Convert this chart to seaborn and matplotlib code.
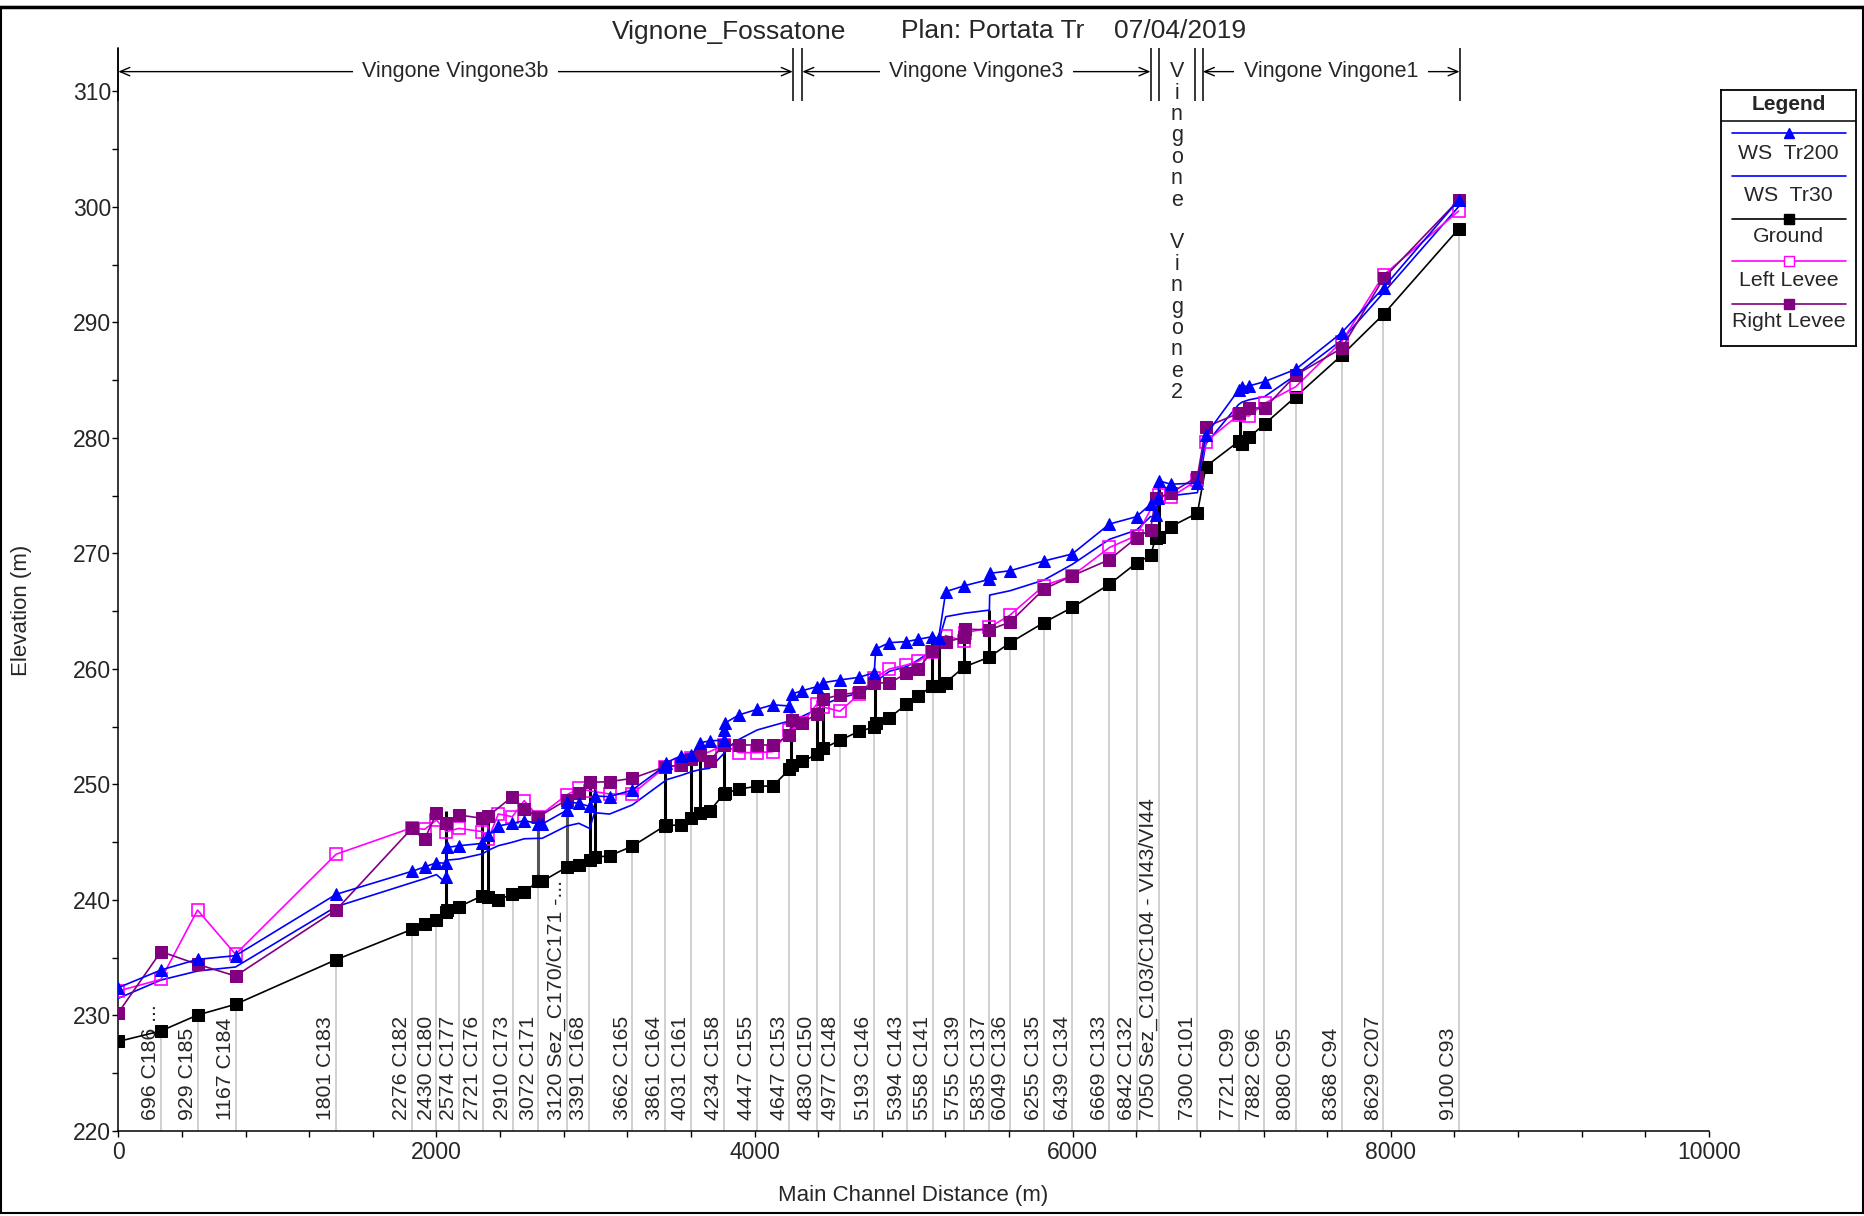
import numpy as np
import matplotlib
matplotlib.use("Agg")
import matplotlib.pyplot as plt
import seaborn as sns
from matplotlib.patches import Rectangle
from matplotlib.ticker import MultipleLocator

# values (main channel distance in m, elevation in m)
ground_x = [0, 268, 498, 737, 1369, 1845, 1926, 2000, 2058, 2066, 2142, 2289, 2326, 2389,
            2477, 2552, 2640, 2665, 2818, 2895, 2963, 2994, 3088, 3231, 3436, 3443, 3540,
            3603, 3659, 3717, 3808, 3812, 3901, 4016, 4114, 4219, 4234, 4300, 4390, 4432,
            4537, 4656, 4752, 4762, 4847, 4955, 5028, 5117, 5157, 5202, 5317, 5476, 5607,
            5819, 5997, 6231, 6401, 6489, 6522, 6540, 6616, 6784, 6837, 7043, 7064, 7107,
            7206, 7402, 7691, 7954, 8426]
ground_z = [227.75, 228.66, 230.04, 230.97, 234.83, 237.45, 237.92, 238.3, 238.95, 239.1,
            239.42, 240.37, 240.25, 240.0, 240.52, 240.69, 241.62, 241.62, 242.83, 242.99,
            243.46, 243.7, 243.83, 244.65, 246.42, 246.5, 246.45, 247.14, 247.54, 247.69,
            249.2, 249.24, 249.6, 249.85, 249.87, 251.3, 251.7, 252.0, 252.6, 253.12,
            253.83, 254.6, 254.97, 255.3, 255.77, 256.95, 257.65, 258.53, 258.53, 258.83,
            260.18, 261.03, 262.28, 264.02, 265.33, 267.34, 269.18, 269.83, 271.35, 271.4,
            272.32, 273.5, 277.53, 279.7, 279.48, 280.05, 281.2, 283.58, 287.16, 290.71,
            298.1]

ws200_x = [0, 268, 498, 737, 1369, 1845, 1926, 2000, 2058, 2060, 2066, 2142, 2289, 2326,
           2389, 2477, 2552, 2640, 2665, 2818, 2822, 2895, 2963, 2994, 3088, 3231, 3436,
           3443, 3540, 3603, 3659, 3717, 3808, 3810, 3812, 3901, 4016, 4114, 4219, 4234,
           4300, 4390, 4432, 4537, 4656, 4752, 4762, 4847, 4955, 5028, 5117, 5157, 5202,
           5317, 5476, 5478, 5607, 5819, 5997, 6231, 6401, 6489, 6522, 6538, 6540, 6616,
           6784, 6837, 7043, 7064, 7107, 7206, 7402, 7691, 7954, 8426]
ws200_z = [232.41, 233.94, 234.86, 235.18, 240.49, 242.48, 242.86, 243.23, 243.18, 241.98,
           244.55, 244.7, 244.9, 245.6, 246.41, 246.64, 246.87, 246.62, 246.58, 247.76,
           248.5, 248.37, 248.1, 249.0, 248.95, 249.52, 251.6, 251.89, 252.5, 252.56,
           253.62, 253.77, 253.85, 254.72, 255.3, 256.02, 256.51, 256.9, 256.8, 257.84,
           258.12, 258.47, 258.82, 259.05, 259.28, 259.68, 261.73, 262.28, 262.37, 262.57,
           262.8, 262.65, 266.7, 267.2, 267.76, 268.28, 268.51, 269.35, 269.96, 272.55,
           273.19, 274.26, 273.33, 274.8, 276.3, 276.0, 276.1, 280.26, 284.16, 284.44,
           284.5, 284.88, 285.95, 289.12, 293.02, 300.6]

ws30_x = [0, 268, 498, 737, 1369, 1845, 1926, 2000, 2058, 2066, 2142, 2289, 2326, 2389,
          2477, 2552, 2640, 2665, 2818, 2895, 2963, 2994, 3088, 3231, 3436, 3443, 3540,
          3603, 3659, 3717, 3808, 3812, 3901, 4016, 4114, 4219, 4234, 4300, 4390, 4432,
          4537, 4656, 4752, 4762, 4847, 4955, 5028, 5117, 5157, 5202, 5317, 5476, 5478,
          5607, 5819, 5997, 6231, 6401, 6489, 6522, 6540, 6616, 6784, 6837, 7043, 7064,
          7107, 7206, 7402, 7691, 7954, 8426]
ws30_z = [231.49, 233.07, 233.85, 234.2, 239.42, 241.5, 241.85, 242.2, 241.5, 243.45,
          243.55, 244.0, 244.3, 244.7, 245.0, 245.3, 245.34, 245.34, 246.4, 246.64,
          246.2, 247.56, 247.44, 248.23, 250.3, 250.4, 250.8, 251.1, 251.3, 251.4,
          252.7, 253.0, 253.9, 254.72, 255.1, 255.5, 255.6, 255.9, 256.5, 256.9,
          257.5, 257.9, 258.6, 258.9, 259.8, 260.2, 260.78, 261.6, 262.37, 264.53,
          264.82, 265.1, 266.4, 266.78, 267.7, 269.06, 271.23, 272.03, 273.19, 273.2,
          274.92, 275.0, 275.27, 279.5, 282.9, 283.1, 283.3, 283.58, 285.45, 288.48,
          292.58, 300.03]

left_x = [0, 268, 498, 737, 1369, 1845, 1926, 2000, 2062, 2142, 2289, 2326, 2389, 2477,
          2552, 2640, 2818, 2895, 2963, 3088, 3231, 3436, 3540, 3603, 3717, 3808, 3901,
          4016, 4114, 4219, 4300, 4390, 4432, 4537, 4656, 4752, 4847, 4955, 5028, 5117,
          5202, 5317, 5320, 5476, 5607, 5819, 5997, 6231, 6401, 6540, 6616, 6784, 6837,
          7043, 7107, 7206, 7402, 7691, 7954, 8426]
left_z = [232.12, 233.13, 239.13, 235.3, 243.96, 246.25, 246.12, 246.93, 245.92, 246.2,
          245.92, 245.3, 247.45, 247.21, 248.6, 247.21, 249.09, 249.67, 249.45, 249.18,
          249.18, 251.49, 251.69, 252.27, 252.84, 253.42, 252.76, 252.76, 252.84, 254.7,
          255.3, 256.94, 256.7, 256.34, 257.8, 259.2, 260.0, 260.35, 260.65, 261.5,
          262.9, 262.4, 263.1, 263.6, 264.68, 267.22, 268.07, 270.52, 271.55, 275.07,
          274.86, 276.36, 279.68, 282.0, 281.9, 283.0, 284.44, 288.34, 294.11, 299.65]

right_x = [0, 268, 498, 737, 1369, 1845, 1926, 2000, 2062, 2142, 2289, 2326, 2477, 2552,
           2640, 2818, 2895, 2963, 3088, 3231, 3436, 3540, 3603, 3659, 3717, 3808, 3901,
           4016, 4114, 4219, 4234, 4300, 4390, 4432, 4537, 4656, 4752, 4847, 4955, 5028,
           5117, 5202, 5317, 5320, 5476, 5607, 5819, 5997, 6231, 6401, 6489, 6522, 6616,
           6784, 6837, 7043, 7107, 7206, 7402, 7691, 7954, 8426]
right_z = [230.24, 235.53, 234.43, 233.42, 239.13, 246.2, 245.28, 247.5, 246.69, 247.36,
           247.07, 247.27, 248.95, 247.85, 247.2, 248.66, 249.24, 250.18, 250.25, 250.53,
           251.54, 251.69, 252.18, 252.56, 252.06, 253.42, 253.42, 253.42, 253.42, 254.25,
           255.6, 255.3, 256.13, 257.38, 257.77, 257.98, 258.82, 258.78, 259.62, 260.0,
           261.55, 262.33, 262.75, 263.45, 263.38, 264.07, 266.92, 268.07, 269.47, 271.36,
           272.07, 274.8, 275.22, 276.66, 280.96, 282.14, 282.63, 282.57, 285.45, 287.77,
           293.82, 300.6]

# bridges / culverts drawn as vertical bars: distance, invert, deck
struct_x = [2062, 2289, 2326, 2963, 2994, 3436, 3603, 3659, 3810, 4226, 4390, 4432,
            4757, 5117, 5157, 5317, 5476, 6540, 7053]
struct_lo = [238.95, 240.37, 240.25, 243.46, 243.7, 246.42, 247.14, 247.54, 249.2, 251.3,
             252.6, 253.12, 254.97, 258.53, 258.53, 260.18, 261.03, 271.4, 279.6]
struct_hi = [247.7, 247.07, 247.27, 250.7, 250.7, 251.9, 252.2, 252.56, 254.5, 256.2,
             256.6, 257.0, 259.7, 262.9, 262.9, 263.5, 265.1, 276.3, 282.3]
inline_x = [2640, 2818]
inline_lo = [241.62, 242.83]
inline_hi = [246.6, 248.7]

station_x = [268, 498, 737, 1369, 1845, 2000, 2142, 2293, 2481, 2640, 2818, 2959, 3231,
             3434, 3601, 3807, 4016, 4219, 4393, 4540, 4749, 4957, 5120, 5317, 5476, 5608,
             5817, 5997, 6231, 6401, 6543, 6784, 7043, 7204, 7404, 7692, 7952, 8426]
station_labels = ["696 C186 ...", "929 C185", "1167 C184", "1801 C183", "2276 C182",
                  "2430 C180", "2574 C177", "2721 C176", "2910 C173", "3072 C171",
                  "3120 Sez_C170/C171 -...", "3391 C168", "3662 C165", "3861 C164",
                  "4031 C161", "4234 C158", "4447 C155", "4647 C153", "4830 C150",
                  "4977 C148", "5193 C146", "5394 C143", "5558 C141", "5755 C139",
                  "5835 C137", "6049 C136", "6255 C135", "6439 C134", "6669 C133",
                  "6842 C132", "7050 Sez_C103/C104 - VI43/VI44", "7300 C101", "7721 C99",
                  "7882 C96", "8080 C95", "8368 C94", "8629 C207", "9100 C93"]

reach_names = ["Vingone Vingone3b", "Vingone Vingone3", "Vingone Vingone2", "Vingone Vingone1"]
reach_start = [0, 4300, 6541, 6818]
reach_end = [4240, 6489, 6766, 8432]

# ---- figure ----
sns.set_style("ticks")
plt.rcParams['font.family'] = ['Liberation Sans', 'DejaVu Sans']

W, H = 1865, 1216
fig = plt.figure(figsize=(W / 100, H / 100), dpi=100)
ax = fig.add_axes([118.3 / W, 85 / H, (1709 - 118.3) / W, (1131 - 47.6) / H])
ax.set_xlim(0, 10000)
ax.set_ylim(220, 313.8)

# station guide lines and labels
station_top = np.interp(station_x, ground_x, ground_z)
ax.vlines(station_x, 220, station_top, color="#c8c8c8", lw=1.2, zorder=1)
for sx, lab in zip(station_x, station_labels):
    ax.text(sx - 4, 220.92, lab, rotation=90, ha="right", va="bottom",
            fontsize=15.3, zorder=1.5)

ax.vlines(struct_x, struct_lo, struct_hi, color="black", lw=2.2, zorder=2.5)
ax.vlines(inline_x, inline_lo, inline_hi, color="#555555", lw=2.2, zorder=2.5)

ms = 8
sns.lineplot(x=ws30_x, y=ws30_z, ax=ax, color="#0000ff", linewidth=1.2,
             estimator=None, sort=False, zorder=3)
sns.lineplot(x=ground_x, y=ground_z, ax=ax, color="black", linewidth=1.2, marker="s",
             markersize=ms, markeredgecolor="black", estimator=None, sort=False, zorder=4)
sns.lineplot(x=left_x, y=left_z, ax=ax, color="#ff00ff", linewidth=1.2, marker="s",
             markersize=ms, markerfacecolor="none", markeredgecolor="#ff00ff",
             markeredgewidth=1.2, estimator=None, sort=False, zorder=5)
sns.lineplot(x=right_x, y=right_z, ax=ax, color="#800080", linewidth=1.2, marker="s",
             markersize=ms, markeredgecolor="#800080", estimator=None, sort=False, zorder=6)
sns.lineplot(x=ws200_x, y=ws200_z, ax=ax, color="#0000ff", linewidth=1.2, marker="^",
             markersize=ms + 1, markeredgecolor="#0000ff", estimator=None, sort=False,
             zorder=7)

# reach banner along the top
bars = sorted(set(reach_start + reach_end))
ax.vlines(bars, 309.2, 313.77, color="black", lw=1.1, clip_on=False, zorder=8)
y_ar = 311.72
for name, x0, x1 in zip(reach_names, reach_start, reach_end):
    xm = (x0 + x1) / 2
    if name.endswith("2"):
        step = 21.4 / 11.55
        for i, ch in enumerate(name):
            ax.text(xm, y_ar - i * step, ch, ha="center", va="center", fontsize=15.5,
                    clip_on=False, zorder=8)
        continue
    ax.annotate("", xy=(x0, y_ar), xytext=(x1, y_ar),
                arrowprops=dict(arrowstyle="<->,head_length=0.7,head_width=0.3",
                                color="black", lw=1, shrinkA=0, shrinkB=0),
                annotation_clip=False, zorder=8)
    ax.text(xm, y_ar, name, ha="center", va="center", fontsize=15.5, zorder=9,
            bbox=dict(facecolor="white", edgecolor="none", pad=7))

# axes styling
sns.despine(ax=ax)
ax.xaxis.set_major_locator(MultipleLocator(2000))
ax.xaxis.set_minor_locator(MultipleLocator(400))
ax.yaxis.set_major_locator(MultipleLocator(10))
ax.yaxis.set_minor_locator(MultipleLocator(5))
ax.tick_params(which="both", direction="out", length=4.3, width=1, color="black")
ax.tick_params(axis="both", labelsize=16.5)
ax.tick_params(axis="y", pad=1)
ax.tick_params(axis="x", pad=3)
for s in ax.spines.values():
    s.set_linewidth(1.1)
    s.set_color("black")
ax.set_xlabel("")
ax.set_ylabel("")
fig.text(21.4 / W, 1 - 610 / H, "Elevation (m)", rotation=90, ha="center", va="center",
         fontsize=16)
fig.text(913.5 / W, 1 - 1195 / H, "Main Channel Distance (m)", ha="center", va="center",
         fontsize=16)

# title
for txt, cx in [("Vignone_Fossatone", 729), ("Plan: Portata Tr", 992.5), ("07/04/2019", 1180.5)]:
    fig.text(cx / W, 1 - 31.5 / H, txt, ha="center", va="center", fontsize=19)

# legend drawn like the HEC-RAS box
lax = fig.add_axes([1721 / W, 1 - 346 / H, 135 / W, 256 / H])
lax.set_xlim(1721, 1856)
lax.set_ylim(346, 90)
lax.set_xticks([])
lax.set_yticks([])
for s in lax.spines.values():
    s.set_linewidth(1.3)
    s.set_color("black")
lax.text(1788.5, 105, "Legend", ha="center", va="center", fontsize=15, fontweight="bold")
lax.plot([1721, 1856], [120.7, 120.7], color="black", lw=1.1)
legend_rows = [
    ("WS  Tr200", 132.7, 153.3, dict(color="#0000ff", marker="^", mec="#0000ff")),
    ("WS  Tr30", 176.0, 195.7, dict(color="#0000ff")),
    ("Ground", 218.7, 236.7, dict(color="black", marker="s", mec="black")),
    ("Left Levee", 261.0, 280.0, dict(color="#ff00ff", marker="s", mfc="white", mec="#ff00ff")),
    ("Right Levee", 304.0, 321.7, dict(color="#800080", marker="s", mec="#800080")),
]
for lab, yl, yt, st in legend_rows:
    lax.plot([1731.7, 1846], [yl, yl], lw=1.2, color=st["color"])
    if "marker" in st:
        lax.plot([1788.7], [yl], linestyle="none", markersize=6.5, **st)
    lax.text(1788.5, yt, lab, ha="center", va="center", fontsize=15.3)

# outer frame of the plot window
fig.patches.append(Rectangle((1 / W, 3 / H), (W - 3) / W, (H - 10) / H,
                             transform=fig.transFigure, fill=False, lw=1.5,
                             edgecolor="black"))
fig.lines.append(plt.Line2D([0, 1], [1 - 7 / H, 1 - 7 / H], transform=fig.transFigure,
                            color="black", lw=2.5))

fig.savefig("out.png", dpi=100)
